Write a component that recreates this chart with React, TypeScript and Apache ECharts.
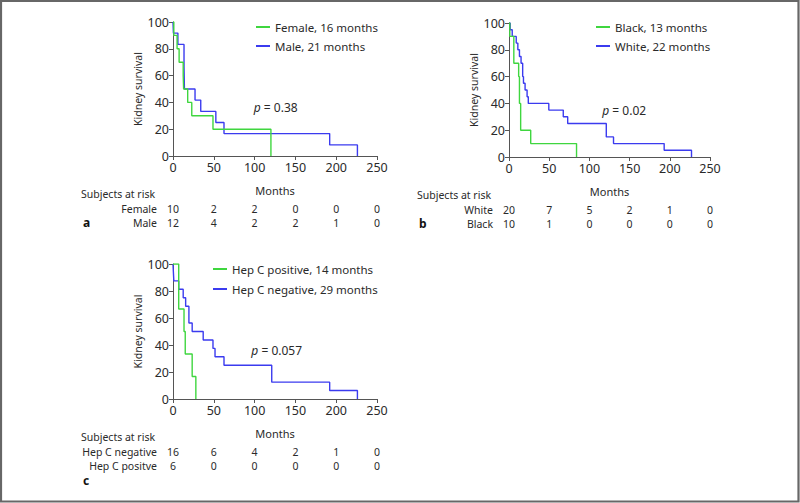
import React, { useEffect, useRef } from "react";
import * as echarts from "echarts";

// ---- data ----
const monthTicks = [0, 50, 100, 150, 200, 250];

const femaleCurve = [[0, 100], [1, 90], [5, 80], [7.5, 70], [12.5, 60], [13, 50], [18, 40], [23, 30], [49, 20], [120, 0]];
const maleCurve = [[0, 100], [0.5, 91.7], [6, 83.3], [13.5, 66.7], [14, 50], [27, 41.7], [34, 33.3], [52.5, 25], [62.5, 16.7], [192, 8.3], [226, 0]];

const blackCurve = [[0, 100], [1, 90], [6, 70], [12, 60], [13, 40], [14.5, 20], [27, 10], [84, 0]];
const whiteCurve = [[0, 100], [1.5, 95], [4, 90], [9, 85], [11, 80], [13, 75], [15, 70], [17, 60], [18, 55], [20, 50], [22.5, 45], [24, 40], [49.5, 35], [67.5, 30], [73, 25], [121, 15], [130, 10], [193, 5], [227, 0]];

const hepPosCurve = [[0, 100], [7, 66.7], [13.5, 50], [15, 33.3], [23.5, 16.7], [28, 0]];
const hepNegCurve = [[0, 100], [0.5, 93.75], [1, 87.5], [7, 81.25], [12.5, 75], [15.5, 68.75], [19.5, 56.25], [23.5, 50], [37, 43.75], [49, 37.5], [51.5, 31.25], [62.5, 25], [121, 12.5], [192, 6.25], [226, 0]];

const femaleRisk = [10, 2, 2, 0, 0, 0];
const maleRisk = [12, 4, 2, 2, 1, 0];
const whiteRisk = [20, 7, 5, 2, 1, 0];
const blackRisk = [10, 1, 0, 0, 0, 0];
const hepNegRisk = [16, 6, 4, 2, 1, 0];
const hepPosRisk = [6, 0, 0, 0, 0, 0];

const legendNamesA = ["Female, 16 months", "Male, 21 months"];
const legendNamesB = ["Black, 13 months", "White, 22 months"];
const legendNamesC = ["Hep C positive, 14 months", "Hep C negative, 29 months"];

const riskLabelsA = ["Female", "Male"];
const riskLabelsB = ["White", "Black"];
const riskLabelsC = ["Hep C negative", "Hep C positve"];

const pValues = ["0.38", "0.02", "0.057"];
const pAnchors = [[99, 36], [116, 35], [96, 36]];

const GREEN = "#3fd63f";
const BLUE = "#3b3bef";
const FONT = "Noto Sans";
const AXIS = "#555";
const TEXT = "#2a2a2a";

const panels = [
  { letter: "a", names: legendNamesA, curves: [femaleCurve, maleCurve], riskLabels: riskLabelsA, risk: [femaleRisk, maleRisk], grid: { left: 173, top: 22, width: 204, height: 134 }, legend: { left: 256, top: 20, gap: 5 }, letterRow: 1 },
  { letter: "b", names: legendNamesB, curves: [blackCurve, whiteCurve], riskLabels: riskLabelsB, risk: [whiteRisk, blackRisk], grid: { left: 509, top: 23, width: 201, height: 134 }, legend: { left: 596, top: 20, gap: 5 }, letterRow: 1 },
  { letter: "c", names: legendNamesC, curves: [hepPosCurve, hepNegCurve], riskLabels: riskLabelsC, risk: [hepNegRisk, hepPosRisk], grid: { left: 173, top: 264, width: 204, height: 135 }, legend: { left: 213, top: 262, gap: 6 }, letterRow: 2 },
];

export default function App() {
  const ref = useRef<HTMLDivElement>(null);
  useEffect(() => {
    document.body.style.margin = "0";
    const chart = echarts.init(ref.current!, undefined, { renderer: "svg" });
    const grids: any[] = [];
    const xAxes: any[] = [];
    const yAxes: any[] = [];
    const series: any[] = [];
    const legends: any[] = [];
    panels.forEach((p, i) => {
      grids.push({ ...p.grid });
      xAxes.push({
        type: "value", gridIndex: i, min: 0, max: 250, interval: 50,
        axisLine: { show: true, lineStyle: { color: AXIS, width: 1 } },
        axisTick: { show: true, length: 4, lineStyle: { color: AXIS } },
        axisLabel: { fontSize: 12.5, color: TEXT, fontFamily: FONT, margin: 5 },
        splitLine: { show: false },
        name: "Months", nameLocation: "middle", nameGap: 29,
        nameTextStyle: { fontSize: 11, color: TEXT, fontFamily: FONT },
      });
      yAxes.push({
        type: "value", gridIndex: i, min: 0, max: 100, interval: 20,
        axisLine: { show: true, lineStyle: { color: AXIS, width: 1 } },
        axisTick: { show: true, length: 4, lineStyle: { color: AXIS } },
        axisLabel: { fontSize: 12.5, color: TEXT, fontFamily: FONT, margin: 4 },
        splitLine: { show: false },
        name: "Kidney survival", nameLocation: "middle", nameGap: 30, nameRotate: 90,
        nameTextStyle: { fontSize: 10.5, color: TEXT, fontFamily: FONT },
      });
      p.curves.forEach((c, k) => {
        series.push({
          type: "line", name: p.names[k], xAxisIndex: i, yAxisIndex: i,
          data: c, step: "end", showSymbol: false, symbol: "none",
          color: k === 0 ? GREEN : BLUE,
          lineStyle: { width: 1.4, color: k === 0 ? GREEN : BLUE },
          z: k === 0 ? 3 : 2,
        });
      });
      legends.push({
        data: p.names, orient: "vertical", left: p.legend.left, top: p.legend.top,
        itemGap: p.legend.gap, itemWidth: 14, itemHeight: 2, icon: "rect",
        textStyle: { fontSize: 11.5, color: TEXT, fontFamily: FONT, lineHeight: 14 },
        padding: 0,
      });
    });
    chart.setOption({
      animation: false,
      backgroundColor: "#fff",
      grid: grids, xAxis: xAxes, yAxis: yAxes, series, legend: legends,
    });

    const g: any[] = [
      { type: "rect", shape: { x: 1, y: 1, width: 797.5, height: 500.5 }, style: { fill: "none", stroke: "#676767", lineWidth: 2.2 }, silent: true },
    ];
    const txt = (x: number, y: number, text: string, align: string, extra: any = {}) => ({
      type: "text", x, y,
      style: { text, fill: TEXT, font: `10.5px "${FONT}"`, lineHeight: 12, align, verticalAlign: "middle", ...extra },
    });
    panels.forEach((p, i) => {
      const left = p.grid.left;
      const bottom = p.grid.top + p.grid.height;
      g.push(txt(left - 92, bottom + 38, "Subjects at risk", "left"));
      p.riskLabels.forEach((lab, r) => {
        const y = bottom + 53 + r * 13.5;
        g.push(txt(left - 16, y, lab, "right"));
        p.risk[r].forEach((v, k) => {
          const px = chart.convertToPixel({ gridIndex: i } as any, [monthTicks[k], 0]) as number[];
          g.push(txt(px[0], y, String(v), "center"));
        });
      });
      const ly = bottom + 53 + p.letterRow * 13.5 + (p.letterRow === 2 ? 1 : 0);
      g.push(txt(left - 90, ly, p.letter, "left", { font: `bold 12px "${FONT}"`, fill: "#111" }));
      const pp = chart.convertToPixel({ gridIndex: i } as any, pAnchors[i]) as number[];
      g.push({
        type: "text", x: pp[0], y: pp[1],
        style: {
          text: `{i|p} = ${pValues[i]}`, fill: TEXT, font: `12px "${FONT}"`, align: "left", verticalAlign: "middle",
          rich: { i: { fontStyle: "italic", fontSize: 12, fontFamily: FONT, fill: TEXT } },
        },
      });
    });
    chart.setOption({ graphic: g });
    return () => chart.dispose();
  }, []);
  return <div ref={ref} style={{ position: "fixed", left: 0, top: 0, width: 800, height: 503 }} />;
}
